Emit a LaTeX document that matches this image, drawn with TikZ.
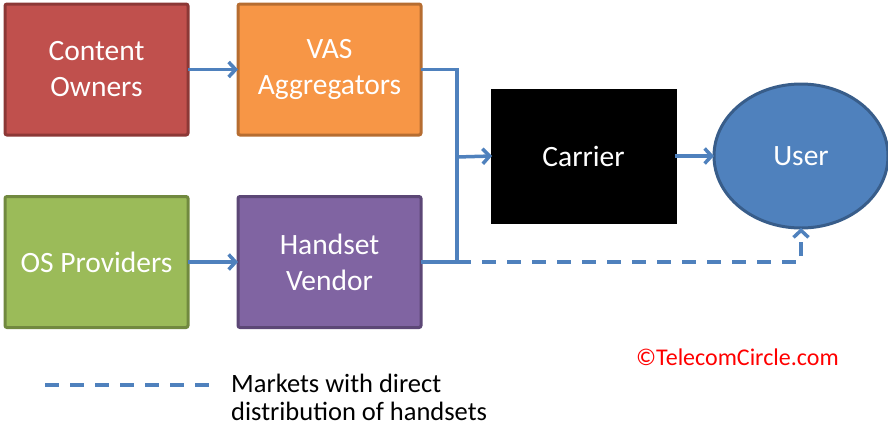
\documentclass[tikz,border=0pt]{standalone}
\usepackage{fontspec}
\setmainfont{Carlito}
\usetikzlibrary{arrows.meta,shapes.geometric,shadows}
\definecolor{redfill}{HTML}{C0504D}\definecolor{redline}{HTML}{8C3836}
\definecolor{orangefill}{HTML}{F79646}\definecolor{orangeline}{HTML}{B66D31}
\definecolor{greenfill}{HTML}{9BBB59}\definecolor{greenline}{HTML}{71893F}
\definecolor{purplefill}{HTML}{8064A2}\definecolor{purpleline}{HTML}{5C4776}
\definecolor{bluefill}{HTML}{4F81BD}\definecolor{blueline}{HTML}{385D8A}
\definecolor{flow}{HTML}{4F81BD}
\tikzset{
  box/.style={rectangle, rounded corners=2pt, line width=3pt, minimum width=183pt,
    minimum height=131pt, inner sep=0pt, outer sep=0pt, text=white, align=center,
    font=\fontsize{29.5}{36}\selectfont},
  flowline/.style={draw=flow, line width=3.5pt, line join=miter},
  tip/.style={-{Straight Barb[length=7pt,width=15pt,line width=3.5pt]}},
  dashline/.style={flowline, dash pattern=on 14pt off 11pt},
}
\begin{document}
\begin{tikzpicture}[x=1pt,y=-1pt]
\useasboundingbox (0,0) rectangle (888,426);
% actor boxes
\node[box, fill=redfill, draw=redline] (co) at (96.5,69.5) {Content\\Owners};
\node[box, fill=orangefill, draw=orangeline] (vas) at (329.5,69.5) {VAS\\Aggregators};
\node[box, fill=greenfill, draw=greenline] (os) at (96.5,262) {OS Providers};
\node[box, fill=purplefill, draw=purpleline] (hv) at (329.5,262) {Handset\\Vendor};
\node[box, fill=black, draw=black, rounded corners=0pt, minimum width=183pt, minimum height=132pt,
  drop shadow={opacity=0.35, shadow xshift=2pt, shadow yshift=-2pt}] (car) at (583.5,156) {Carrier};
\node[ellipse, fill=bluefill, draw=blueline, line width=3pt, minimum width=174pt,
  minimum height=144pt, inner sep=0pt, outer sep=0pt, text=white,
  font=\fontsize{29.5}{36}\selectfont] (user) at (801,156) {User};
% junction points of the merged feed
\coordinate (jtop) at (457,69.5);
\coordinate (jmid) at (457,157);
\coordinate (jbot) at (457,262);
% connectors
\draw[flowline, tip] (co.east) -- (vas.west);
\draw[flowline, tip] (os.east) -- (hv.west);
\draw[flowline] (vas.east) -- (jtop) -- (jbot) -- (hv.east);
\draw[flowline, tip] (jmid) -- (car.west);
\draw[flowline, tip] (car.east) -- (user.west);
\draw[dashline, tip] (jbot) -| (user.south);
% legend
\coordinate (lega) at (45,385);
\coordinate (legb) at (210,385);
\draw[dashline] (lega) -- (legb);
\node[anchor=west, align=left, inner sep=0pt, font=\fontsize{26.5}{28}\selectfont] (legtext)
  at (231,397) {Markets with direct\\distribution of handsets};
\node[anchor=west, inner sep=0pt, text=red, font=\fontsize{24}{28}\selectfont] (copy)
  at (636,357) {\textcopyright TelecomCircle.com};
\end{tikzpicture}
\end{document}
